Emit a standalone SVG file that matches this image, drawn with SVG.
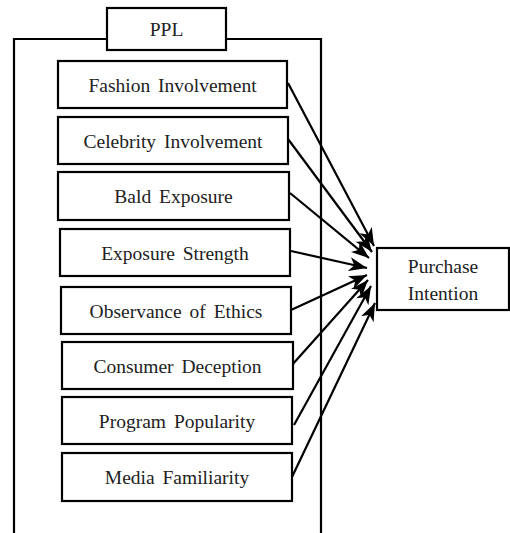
<svg xmlns="http://www.w3.org/2000/svg" width="510" height="533" viewBox="0 0 510 533">
<defs>
<style>
.box{fill:#fff;stroke:#000;stroke-width:2.2}
.frame{fill:none;stroke:#000;stroke-width:2.2}
.lbl{font-family:"Liberation Serif","Times New Roman",serif;font-size:19.5px;word-spacing:3px;fill:#222;text-anchor:middle}
.edge{stroke:#000;stroke-width:2.2;fill:none;marker-end:url(#ah)}
</style>
<marker id="ah" markerUnits="userSpaceOnUse" markerWidth="20" markerHeight="14" viewBox="0 0 20 14" refX="18" refY="7" orient="auto">
<path d="M0,0 L18,7 L0,14 L5,7 z" fill="#000"/>
</marker>
</defs>
<rect width="510" height="533" fill="#fff"/>
<g id="frame">
<path class="frame" d="M14,534 V39 H321 V534"/>
</g>
<g id="ppl">
<rect class="box" x="107" y="8" width="119" height="42"/>
<text class="lbl" x="166.5" y="36">PPL</text>
</g>
<g id="connectors">
<line class="edge" x1="288" y1="83" x2="374" y2="246"/>
<line class="edge" x1="288" y1="139" x2="372" y2="252"/>
<line class="edge" x1="290" y1="193" x2="369" y2="258"/>
<line class="edge" x1="291" y1="251" x2="367" y2="268"/>
<line class="edge" x1="291" y1="310" x2="367" y2="275"/>
<line class="edge" x1="292" y1="365" x2="368" y2="280"/>
<line class="edge" x1="294" y1="425" x2="371" y2="286"/>
<line class="edge" x1="292" y1="477" x2="375" y2="303"/>
</g>
<g id="n1"><rect class="box" x="58" y="61" width="229" height="47"/><text class="lbl" x="172.5" y="91.5">Fashion Involvement</text></g>
<g id="n2"><rect class="box" x="58" y="117" width="230" height="47"/><text class="lbl" x="173" y="148">Celebrity Involvement</text></g>
<g id="n3"><rect class="box" x="58" y="172" width="231" height="48"/><text class="lbl" x="173.5" y="203">Bald Exposure</text></g>
<g id="n4"><rect class="box" x="60" y="229" width="230" height="47"/><text class="lbl" x="175" y="260">Exposure Strength</text></g>
<g id="n5"><rect class="box" x="61" y="287" width="230" height="47"/><text class="lbl" x="176" y="318">Observance of Ethics</text></g>
<g id="n6"><rect class="box" x="62" y="342" width="231" height="47"/><text class="lbl" x="177.5" y="373">Consumer Deception</text></g>
<g id="n7"><rect class="box" x="62" y="397" width="230" height="47"/><text class="lbl" x="177" y="428">Program Popularity</text></g>
<g id="n8"><rect class="box" x="62" y="453" width="230" height="48"/><text class="lbl" x="177" y="484">Media Familiarity</text></g>
<g id="pi"><rect class="box" x="377" y="248" width="132" height="62"/><text class="lbl" x="443" y="273">Purchase</text><text class="lbl" x="443" y="300">Intention</text></g>
</svg>
